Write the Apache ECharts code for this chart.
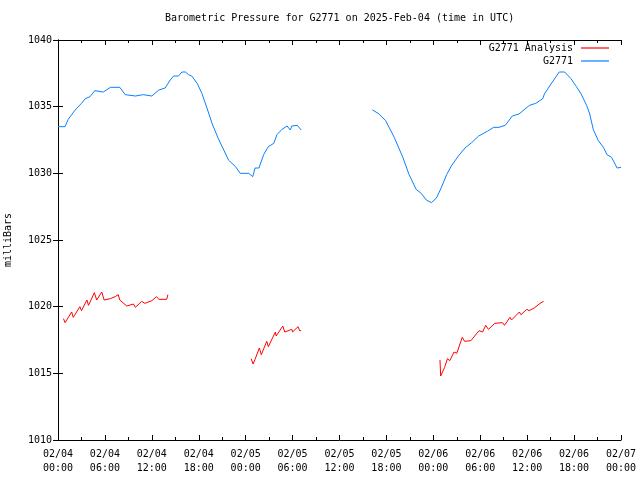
<!DOCTYPE html>
<html>
<head>
<meta charset="utf-8">
<script src="https://cdn.jsdelivr.net/npm/echarts@6/dist/echarts.min.js"></script>
<style>html,body{margin:0;padding:0;background:#fff}#c{width:640px;height:480px}</style>
</head>
<body>
<div id="c"></div>
<script>
// Hours since 2025-02-04 00:00 UTC
const xTickLabels = ['02/04\n00:00','02/04\n06:00','02/04\n12:00','02/04\n18:00','02/05\n00:00','02/05\n06:00','02/05\n12:00','02/05\n18:00','02/06\n00:00','02/06\n06:00','02/06\n12:00','02/06\n18:00','02/07\n00:00'];

// G2771 observations, segment 1
const obs1Hours = [0.0,0.9,1.3,2.2,3.0,3.5,4.1,4.7,5.8,6.7,7.9,8.6,9.9,10.9,12.0,12.9,13.7,14.35,14.8,15.4,15.85,16.3,16.7,17.1,17.8,18.4,19.05,19.7,20.5,21.2,21.8,22.7,23.3,24.4,24.9,25.2,25.7,26.3,26.9,27.6,28.0,28.65,29.3,29.7,29.9,30.6,31.1];
const obs1Values = [1033.5,1033.5,1034.05,1034.75,1035.25,1035.6,1035.75,1036.2,1036.1,1036.45,1036.45,1035.9,1035.8,1035.9,1035.8,1036.25,1036.4,1037.0,1037.3,1037.3,1037.6,1037.6,1037.4,1037.3,1036.75,1036.0,1034.9,1033.75,1032.6,1031.75,1031.0,1030.5,1030.0,1030.0,1029.75,1030.4,1030.4,1031.4,1032.0,1032.25,1032.9,1033.3,1033.55,1033.25,1033.55,1033.6,1033.25];
// G2771 observations, segment 2
const obs2Hours = [40.2,41.05,41.9,43.0,44.1,44.9,45.8,46.45,47.1,47.75,48.4,49.0,49.7,50.3,51.2,52.05,52.9,53.8,54.9,55.7,56.4,57.2,58.1,58.95,60.3,61.1,62.0,62.2,63.05,64.1,64.8,65.6,66.3,66.9,67.6,68.0,68.45,69.1,69.75,70.2,70.8,71.5,72.0];
const obs2Values = [1034.76,1034.46,1033.95,1032.7,1031.2,1029.9,1028.8,1028.5,1028.0,1027.8,1028.15,1028.9,1029.9,1030.55,1031.3,1031.9,1032.3,1032.8,1033.15,1033.45,1033.45,1033.6,1034.3,1034.45,1035.1,1035.25,1035.6,1035.95,1036.7,1037.6,1037.6,1037.1,1036.5,1035.95,1035.1,1034.45,1033.3,1032.45,1031.95,1031.4,1031.2,1030.4,1030.45];

// G2771 Analysis, segments
const ana1Hours = [0.7,0.9,1.75,1.95,2.8,3.0,3.7,3.9,4.65,4.95,5.6,5.9,6.7,7.3,7.7,7.9,8.8,9.65,9.9,10.7,11.1,12.0,12.6,12.9,13.9,14.05];
const ana1Values = [1019.1,1018.8,1019.6,1019.2,1020.0,1019.7,1020.5,1020.1,1021.05,1020.5,1021.1,1020.5,1020.6,1020.75,1020.9,1020.5,1020.05,1020.2,1019.95,1020.4,1020.25,1020.45,1020.75,1020.55,1020.55,1020.9];
const ana2Hours = [24.7,24.95,25.2,25.75,26.0,26.7,26.9,27.8,27.9,28.75,29.0,29.9,30.0,30.7,30.9,31.1];
const ana2Values = [1016.1,1015.7,1016.05,1016.9,1016.4,1017.4,1017.0,1018.1,1017.8,1018.55,1018.1,1018.3,1018.1,1018.5,1018.2,1018.2];
const ana3Hours = [48.85,48.94,49.45,49.8,50.1,50.65,51.0,51.7,52.0,52.8,53.85,54.3,54.7,55.05,55.85,56.85,57.1,57.8,58.0,59.0,59.2,59.95,60.25,60.9,61.65,62.1];
const ana3Values = [1016.0,1014.8,1015.45,1016.1,1015.95,1016.6,1016.5,1017.7,1017.4,1017.45,1018.2,1018.1,1018.6,1018.3,1018.75,1018.8,1018.6,1019.2,1019.0,1019.6,1019.4,1019.8,1019.7,1019.9,1020.25,1020.4];

const FONT = 'DejaVu Sans Mono';
const RED = '#ff0000';
const BLUE = '#0a80ff';
const LINE_ICON = 'path://M0,0L28,0L28,1.2L0,1.2Z';

function pairs(h, v) { return h.map((x, i) => [x, v[i]]); }
function seg(name, color, h, v) {
  return {
    name: name, type: 'line', data: pairs(h, v), symbol: 'none', showSymbol: false,
    lineStyle: { color: color, width: 1 }, itemStyle: { color: color },
    animation: false, xAxisIndex: 0, yAxisIndex: 0
  };
}

const chart = echarts.init(document.getElementById('c'), null, { renderer: 'canvas' });
const tickStyle = { color: '#000', width: 1 };
chart.setOption({
  backgroundColor: '#fff',
  animation: false,
  title: {
    text: 'Barometric Pressure for G2771 on 2025-Feb-04 (time in UTC)',
    left: 165, top: 13, padding: 0,
    textStyle: { fontFamily: FONT, fontSize: 10, fontWeight: 'normal', color: '#000' }
  },
  legend: [
    { data: [{ name: 'G2771 Analysis', icon: LINE_ICON }], right: 31, top: 43, padding: 0, align: 'right', itemWidth: 28, itemHeight: 14,
      textStyle: { fontFamily: FONT, fontSize: 10, color: '#000', padding: [0, 3, 0, 0] }, selectedMode: false },
    { data: [{ name: 'G2771', icon: LINE_ICON }], right: 31, top: 56, padding: 0, align: 'right', itemWidth: 28, itemHeight: 14,
      textStyle: { fontFamily: FONT, fontSize: 10, color: '#000', padding: [0, 3, 0, 0] }, selectedMode: false }
  ],
  grid: { left: 58, right: 19, top: 40, bottom: 40, show: false, containLabel: false, outerBoundsMode: 'none' },
  xAxis: [
    { type: 'value', min: 0, max: 72, interval: 6, position: 'bottom',
      axisLine: { show: true, lineStyle: tickStyle },
      axisTick: { show: true, inside: true, length: 5, lineStyle: tickStyle },
      minorTick: { show: true, splitNumber: 2, length: 3, lineStyle: tickStyle },
      splitLine: { show: false },
      axisLabel: { fontFamily: FONT, fontSize: 10, color: '#000', lineHeight: 14, margin: 7,
        formatter: function (v) { return xTickLabels[Math.round(v / 6)] || ''; } } },
    { type: 'value', min: 0, max: 72, interval: 6, position: 'top',
      axisLine: { show: true, lineStyle: tickStyle },
      axisTick: { show: true, inside: true, length: 5, lineStyle: tickStyle },
      minorTick: { show: true, splitNumber: 2, length: 3, lineStyle: tickStyle },
      splitLine: { show: false }, axisLabel: { show: false } }
  ],
  yAxis: [
    { type: 'value', min: 1010, max: 1040, interval: 5, position: 'left',
      name: 'milliBars', nameLocation: 'middle', nameGap: 45, nameRotate: 90,
      nameTextStyle: { fontFamily: FONT, fontSize: 10, color: '#000' },
      axisLine: { show: true, lineStyle: tickStyle },
      axisTick: { show: true, inside: true, length: 5, lineStyle: tickStyle },
      splitLine: { show: false },
      axisLabel: { fontFamily: FONT, fontSize: 10, color: '#000', margin: 6,
        formatter: function (v) { return String(v); } } },
    { type: 'value', min: 1010, max: 1040, interval: 5, position: 'right',
      axisLine: { show: true, lineStyle: tickStyle },
      axisTick: { show: true, inside: true, length: 5, lineStyle: tickStyle },
      splitLine: { show: false }, axisLabel: { show: false } }
  ],
  series: [
    seg('G2771 Analysis', RED, ana1Hours, ana1Values),
    seg('G2771 Analysis', RED, ana2Hours, ana2Values),
    seg('G2771 Analysis', RED, ana3Hours, ana3Values),
    seg('G2771', BLUE, obs1Hours, obs1Values),
    seg('G2771', BLUE, obs2Hours, obs2Values)
  ]
});
</script>
</body>
</html>
